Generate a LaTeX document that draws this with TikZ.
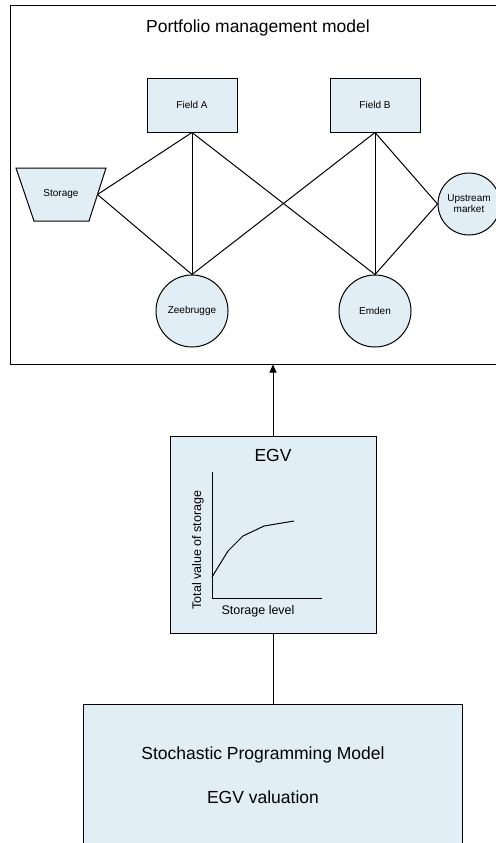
\documentclass[tikz,border=0pt]{standalone}
\usepackage{fontspec}
\setmainfont{Liberation Sans}
\usepackage{xcolor}
\usepackage{tikz}
\usetikzlibrary{arrows.meta}
\usetikzlibrary{positioning}
\definecolor{boxblue}{RGB}{225,238,245}
\newcommand{\tinytxt}{\fontsize{10bp}{12bp}\selectfont}
\newcommand{\axistxt}{\fontsize{12.5bp}{15bp}\selectfont}
\newcommand{\bigtxt}{\fontsize{17.5bp}{21bp}\selectfont}
\tikzstyle{field}=[draw,rectangle,fill=boxblue,line width=1bp,align=center,minimum width=90bp,minimum height=54bp,inner sep=0pt]
\tikzstyle{hub}=[draw,circle,fill=boxblue,line width=1bp,align=center,inner sep=0pt]
\tikzstyle{model}=[draw,rectangle,line width=1bp,inner sep=0pt]
\tikzstyle{link}=[draw,line width=1bp,black]

\begin{document}
\begin{tikzpicture}[x=1bp,y=-1bp]
\useasboundingbox (0,0) rectangle (496,843);
\clip (0,0) rectangle (496,843);
% portfolio management model
\node[model,minimum width=495bp,minimum height=358bp] (pm) at (258.5,185) {};
\node (pmt) at (258,28) {\bigtxt Portfolio management model};

\node[field] (fa) at (192,105) {\tinytxt Field A};
\node[field] (fb) at (375,105) {\tinytxt Field B};
% storage tank
\draw[fill=boxblue,line width=1bp] (16,168) -- (106,168) -- (89,221) -- (34,221) -- cycle;
\node (st) at (61,194.5) {\tinytxt Storage};
\coordinate (ste) at (97.5,194.5);
\node[hub,minimum size=72bp] (zb) at (192,311) {\tinytxt Zeebrugge};
\node[hub,minimum size=72bp] (em) at (375,311) {\tinytxt Emden};
\node[hub,minimum size=62bp] (up) at (469,204) {\tinytxt Upstream\\[-1bp]\tinytxt market};

\path[link] (fa.south) -- (ste);
\path[link] (fa.south) -- (zb.north);
\path[link] (fa.south) -- (em.north);
\path[link] (fb.south) -- (zb.north);
\path[link] (fb.south) -- (em.north);
\path[link] (fb.south) -- (up.west);
\path[link] (ste) -- (zb.north);
\path[link] (em.north) -- (up.west);

% EGV box
\node[model,fill=boxblue,minimum width=206bp,minimum height=197bp] (egv) at (273,534.5) {};
\node (egvt) at (273,455) {\bigtxt EGV};
\draw[line width=1bp] (212,472) -- (212,598) -- (322,598);
\draw[line width=1bp] (212,577) -- (228,551) -- (243,536) -- (264,526) -- (294,521);
\node[rotate=90] (yl) at (198,550) {\axistxt Total value of storage};
\node (xl) at (258,611) {\axistxt Storage level};

% stochastic programming model
\node[model,fill=boxblue,minimum width=378bp,minimum height=146bp] (spm) at (273,777) {};
\node (spmt) at (263,755) {\bigtxt Stochastic Programming Model};
\node (spmv) at (263,797) {\bigtxt EGV valuation};

\path[link,-{Triangle[length=8bp,width=7bp]}] (egv.north) -- (egv.north |- pm.south);
\path[link] (spm.north) -- (egv.south);
\end{tikzpicture}
\end{document}
